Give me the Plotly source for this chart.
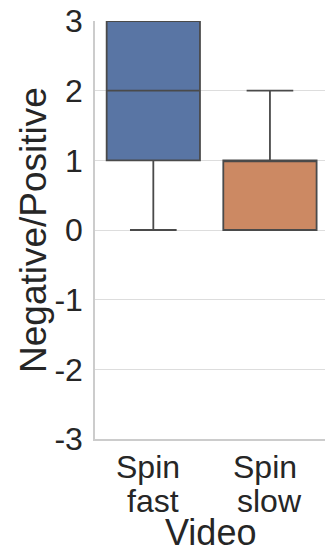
import plotly.graph_objects as go

# Summary statistics per video condition (Negative/Positive rating)
videos = ["Spin fast", "Spin slow"]
q1 = [1, 0]
medians = [2, 1]
q3 = [3, 1]
lower_fence = [0, 0]
upper_fence = [3, 2]
box_colors = ["#5975a4", "#cc8963"]

y_ticks = [-3, -2, -1, 0, 1, 2, 3]

FONT = "Liberation Sans, Arial, sans-serif"
TEXT = "#262626"

fig = go.Figure()
for i, name in enumerate(videos):
    fig.add_trace(go.Box(
        x=[i],
        q1=[q1[i]],
        median=[medians[i]],
        q3=[q3[i]],
        lowerfence=[lower_fence[i]],
        upperfence=[upper_fence[i]],
        name=name,
        width=0.8,
        whiskerwidth=0.5,
        fillcolor=box_colors[i],
        line=dict(color="#4a4a4a", width=1.8),
        boxpoints=False,
        showlegend=False,
        hoverinfo="skip",
    ))

# Category labels, one word per line
annotations = []
for i, name in enumerate(videos):
    words = name.split(" ")
    annotations.append(dict(
        x=i, xref="x", y=0, yref="paper", text=words[0], showarrow=False,
        xanchor="center", yanchor="middle", yshift=-28, xshift=-5,
        font=dict(family=FONT, size=32, color=TEXT),
    ))
    annotations.append(dict(
        x=i, xref="x", y=0, yref="paper", text=words[1], showarrow=False,
        xanchor="center", yanchor="middle", yshift=-62,
        font=dict(family=FONT, size=32, color=TEXT),
    ))

annotations.append(dict(
    x=0.5, xref="paper", y=0, yref="paper", text="Video", showarrow=False,
    xanchor="center", yanchor="middle", yshift=-93, borderpad=0,
    font=dict(family=FONT, size=36, color=TEXT),
))
annotations.append(dict(
    x=0, xref="paper", y=0.5, yref="paper", text="Negative/Positive", showarrow=False,
    xanchor="center", yanchor="middle", xshift=-62, textangle=-90,
    font=dict(family=FONT, size=37, color=TEXT),
))

fig.update_layout(
    width=325, height=555,
    margin=dict(l=95, r=0, t=21, b=116),
    paper_bgcolor="white", plot_bgcolor="white",
    boxmode="overlay",
    annotations=annotations,
    font=dict(family=FONT, color=TEXT),
)
fig.update_xaxes(
    range=[-0.5, 1.472],
    tickvals=[0, 1], showticklabels=False,
    showgrid=False, zeroline=False,
    showline=True, linecolor="#cccccc", linewidth=1.5,
)
fig.update_yaxes(
    range=[-3, 3],
    tickvals=y_ticks, ticktext=[str(v) for v in y_ticks],
    tickfont=dict(family=FONT, size=32, color=TEXT),
    ticklabelstandoff=4,
    showgrid=True, gridcolor="#dddddd", gridwidth=1.3,
    zeroline=False,
    showline=True, linecolor="#cccccc", linewidth=1.5,
)

fig.write_html("out.html")
